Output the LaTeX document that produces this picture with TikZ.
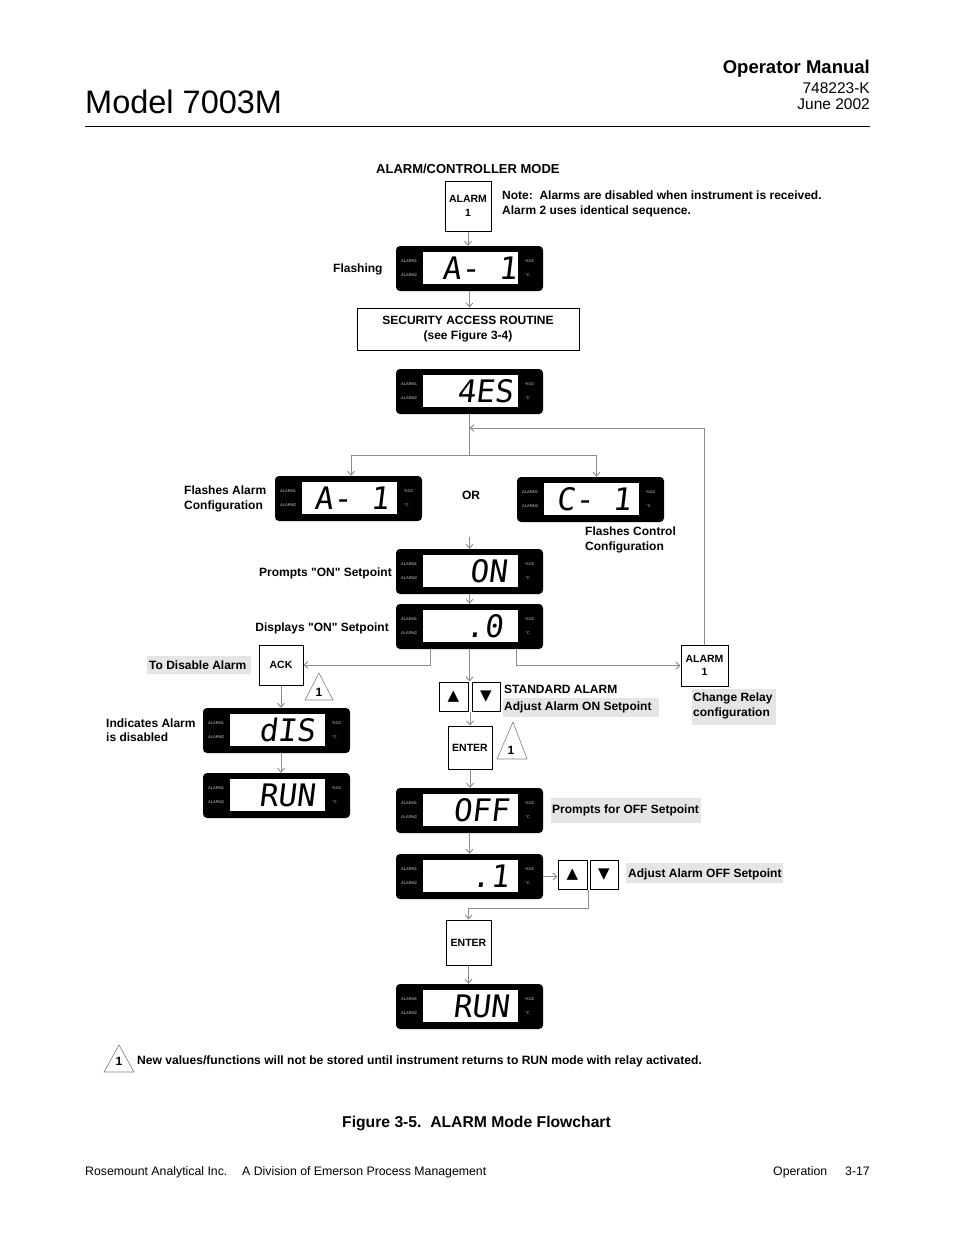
\documentclass[tikz,border=0pt]{standalone}
\usepackage{fontspec}
\setmainfont{Liberation Sans}
\newfontfamily\lblfont{Liberation Sans}
\newfontfamily\segfont[FakeSlant=0.12]{DejaVu Sans Mono}
\newfontfamily\symfont{DejaVu Sans}
\usetikzlibrary{arrows.meta,calc}
\definecolor{conncol}{RGB}{140,140,140}
\definecolor{hlcol}{RGB}{229,229,229}
\tikzset{
 conn/.style={draw=conncol, line width=0.9pt, -{Straight Barb[length=4pt,width=7pt]}},
 gline/.style={draw=conncol, line width=0.9pt},
 btn/.style={draw=black, line width=1pt, fill=white, font=\fontsize{10.5}{13.5}\selectfont\bfseries, align=center, inner sep=0pt},
 lbl/.style={font=\lblfont\fontsize{12}{14}\selectfont\bfseries, inner sep=0pt},
 lcdbox/.style={fill=black, rounded corners=4pt, minimum width=147pt, minimum height=45pt, inner sep=0pt},
 lcdlab/.style={font=\fontsize{4}{4}\selectfont, text=gray!40, inner sep=0pt},
 segtxt/.style={font=\segfont\fontsize{31}{31}\selectfont, inner sep=0pt},
 tri/.style={draw=gray, line width=0.6pt},
 arrowbtn/.style={draw=black, line width=1pt, fill=white, inner sep=0pt, font=\symfont\fontsize{15}{15}\selectfont},
}
\newcommand\lcdunit[5]{%
 \node[lcdbox] (#1) at ({#2+73.5},{#3+22.5}) {};
 \fill[white] ({#2+27},{#3+6}) rectangle ({#2+122},{#3+38});
 \node[lcdlab,anchor=west] (#1-la) at ({#2+5},{#3+15}) {ALARM1};
 \node[lcdlab,anchor=west] (#1-lb) at ({#2+5},{#3+29}) {ALARM2};
 \node[lcdlab,anchor=west] (#1-lc) at ({#2+129},{#3+15}) {\%O2};
 \node[lcdlab,anchor=west] (#1-ld) at ({#2+129},{#3+29}) {°C};
 \node[segtxt,anchor=base east] (#1-t) at ({#2+#5},{#3+33.3}) {#4};
}
\begin{document}
\begin{tikzpicture}[x=1pt,y=-1pt]
\fill[white] (0,0) rectangle (954,1235);
\useasboundingbox (0,0) rectangle (954,1235);

% header
\node[anchor=base west, inner sep=0pt, font=\fontsize{32.5}{34}\selectfont] (title) at (85,113) {Model 7003M};
\node[anchor=base east, inner sep=0pt, font=\fontsize{18.5}{20}\selectfont\bfseries] (opman) at (870,73) {Operator Manual};
\node[anchor=base east, inner sep=0pt, font=\fontsize{15.5}{17}\selectfont] (docno) at (870,93) {748223-K};
\node[anchor=base east, inner sep=0pt, font=\fontsize{15.5}{17}\selectfont] (date) at (870,109) {June 2002};
\draw[line width=0.8pt] (85,126) -- (870,126);

% heading and note
\node[anchor=base west, inner sep=0pt, font=\fontsize{13}{15}\selectfont\bfseries] (head) at (376,173) {ALARM/CONTROLLER MODE};
\node[lbl, anchor=base west] (note1) at (502,199) {Note:\ \ Alarms are disabled when instrument is received.};
\node[lbl, anchor=base west] (note2) at (502,214) {Alarm 2 uses identical sequence.};

% buttons
\node[btn, minimum width=46pt, minimum height=50pt] (alarmT) at (468,206) {ALARM\\1};
\node[btn, minimum width=222pt, minimum height=42pt, font=\fontsize{12}{15}\selectfont\bfseries] (sec) at (468,329) {SECURITY ACCESS ROUTINE\\(see Figure 3-4)};
\node[btn, minimum width=44pt, minimum height=40pt] (ack) at (281,665) {ACK};
\node[btn, minimum width=47pt, minimum height=41pt] (alarmR) at (704.5,665.5) {ALARM\\1};
\node[arrowbtn, minimum width=29pt, minimum height=29pt] (upA) at (453.5,696.5) {▲};
\node[arrowbtn, minimum width=28pt, minimum height=29pt] (dnA) at (486,696.5) {▼};
\node[btn, minimum width=44pt, minimum height=43pt] (enterA) at (470,747.5) {ENTER};
\node[arrowbtn, minimum width=29pt, minimum height=29pt] (upB) at (572.5,874.5) {▲};
\node[arrowbtn, minimum width=28pt, minimum height=29pt] (dnB) at (604,874.5) {▼};
\node[btn, minimum width=45pt, minimum height=45pt] (enterB) at (468.5,942.5) {ENTER};

% displays
\lcdunit{lcdA}{396}{246}{A- 1}{121}
\lcdunit{yes}{396}{369}{4ES}{117}
\lcdunit{acfg}{275}{476}{A- 1}{114}
\lcdunit{ccfg}{517}{477}{C- 1}{114}
\lcdunit{on}{396}{549}{ON}{111}
\lcdunit{zero}{396}{604}{.0}{107}
\lcdunit{dis}{203}{708}{dIS}{112}
\lcdunit{runL}{203}{773}{RUN}{112}
\lcdunit{off}{396}{788}{OFF}{113}
\lcdunit{one}{396}{854}{.1}{113}
\lcdunit{runB}{396}{984}{RUN}{113}

% labels
\node[lbl, anchor=base west] (flash) at (333,272) {Flashing};
\node[lbl, anchor=base west] (fa1) at (184,494) {Flashes Alarm};
\node[lbl, anchor=base west] (fa2) at (184,509) {Configuration};
\node[lbl, anchor=base] (or) at (471,499) {OR};
\node[lbl, anchor=base west] (fc1) at (585,535) {Flashes Control};
\node[lbl, anchor=base west] (fc2) at (585,550) {Configuration};
\node[lbl, anchor=base east] (pon) at (392,576) {Prompts "ON" Setpoint};
\node[lbl, anchor=base east] (don) at (389,631) {Displays "ON" Setpoint};
\fill[hlcol] (147,656) rectangle (251,674);
\node[lbl, anchor=base west] (todis) at (149,669) {To Disable Alarm};
\node[lbl, anchor=base west] (ind1) at (106,727) {Indicates Alarm};
\node[lbl, anchor=base west] (ind2) at (106,741) {is disabled};
\node[lbl, anchor=base west] (std) at (504,693) {STANDARD ALARM};
\fill[hlcol] (503,698) rectangle (659,717);
\node[lbl, anchor=base west] (adjon) at (504,710) {Adjust Alarm ON Setpoint};
\fill[hlcol] (692,689) rectangle (776,725);
\node[lbl, anchor=base west] (cr1) at (693,701) {Change Relay};
\node[lbl, anchor=base west] (cr2) at (693,716) {configuration};
\fill[hlcol] (551,798) rectangle (701,823);
\node[lbl, anchor=base west] (poff) at (552,813) {Prompts for OFF Setpoint};
\fill[hlcol] (626,863) rectangle (783,883);
\node[lbl, anchor=base west] (adjoff) at (628,877) {Adjust Alarm OFF Setpoint};

% warning triangles
\draw[tri] (319,673) -- (305,700) -- (333,700) -- cycle;
\node[lbl, anchor=base] (w1) at (319,696) {1};
\draw[tri] (513,722) -- (497,759) -- (527,759) -- cycle;
\node[lbl, anchor=base] (w2) at (511,754) {1};
\draw[tri] (119,1045) -- (104,1072) -- (134,1072) -- cycle;
\node[lbl, anchor=base] (w3) at (119,1065) {1};
\node[lbl, anchor=base west, font=\lblfont\fontsize{12.1}{14}\selectfont\bfseries] (foot) at (137,1064) {New values/functions will not be stored until instrument returns to RUN mode with relay activated.};

% connectors
\draw[conn] (alarmT.south) -- (alarmT.south |- lcdA.north);
\draw[conn] (lcdA.south) -- (lcdA.south |- sec.north);
\coordinate (br) at (469.5,455);
\coordinate (fb) at (469.5,428);
\draw[gline] (yes.south) -- (br);
\draw[conn] (br) -| ([xshift=2.5pt]acfg.north);
\draw[conn] (br) -| ([xshift=6pt]ccfg.north);
\draw[conn] (alarmR.north) |- (fb);
\coordinate (onin) at (469.5,537);
\draw[conn] (onin) -- (on.north);
\draw[conn] (on.south) -- (zero.north);
\draw[conn] ([xshift=-39.5pt]zero.south) |- (ack.east);
\draw[conn] (zero.south) -- (zero.south |- upA.north);
\draw[conn] ([xshift=46.5pt]zero.south) |- (alarmR.west);
\draw[conn] (ack.south) -- (ack.south |- dis.north);
\draw[conn] (ack.south |- dis.south) -- (ack.south |- runL.north);
\coordinate (ud1) at ($(upA.south east)!0.5!(dnA.south west)$);
\draw[conn] (ud1) -- (ud1 |- enterA.north);
\draw[conn] (enterA.south) -- (enterA.south |- off.north);
\draw[conn] (off.south) -- (one.north);
\draw[conn] (one.east) -- (one.east -| upB.west);
\coordinate (ud2) at ($(upB.south east)!0.5!(dnB.south west)$);
\draw[conn] (ud2) -- ++(0,19) -| (enterB.north);
\draw[conn] (enterB.south) -- (enterB.south |- runB.north);

% caption and footer
\node[anchor=base, inner sep=0pt, font=\fontsize{15.7}{17}\selectfont\bfseries] (cap) at (476.5,1127) {Figure 3-5.\ \ ALARM Mode Flowchart};
\node[anchor=base west, inner sep=0pt, font=\fontsize{12.3}{14}\selectfont] (f1) at (85,1175) {Rosemount Analytical Inc.};
\node[anchor=base west, inner sep=0pt, font=\fontsize{12.3}{14}\selectfont] (f2) at (242,1175) {A Division of Emerson Process Management};
\node[anchor=base west, inner sep=0pt, font=\fontsize{12.3}{14}\selectfont] (f3) at (773,1175) {Operation};
\node[anchor=base east, inner sep=0pt, font=\fontsize{12.3}{14}\selectfont] (f4) at (870,1175) {3-17};
\end{tikzpicture}
\end{document}
